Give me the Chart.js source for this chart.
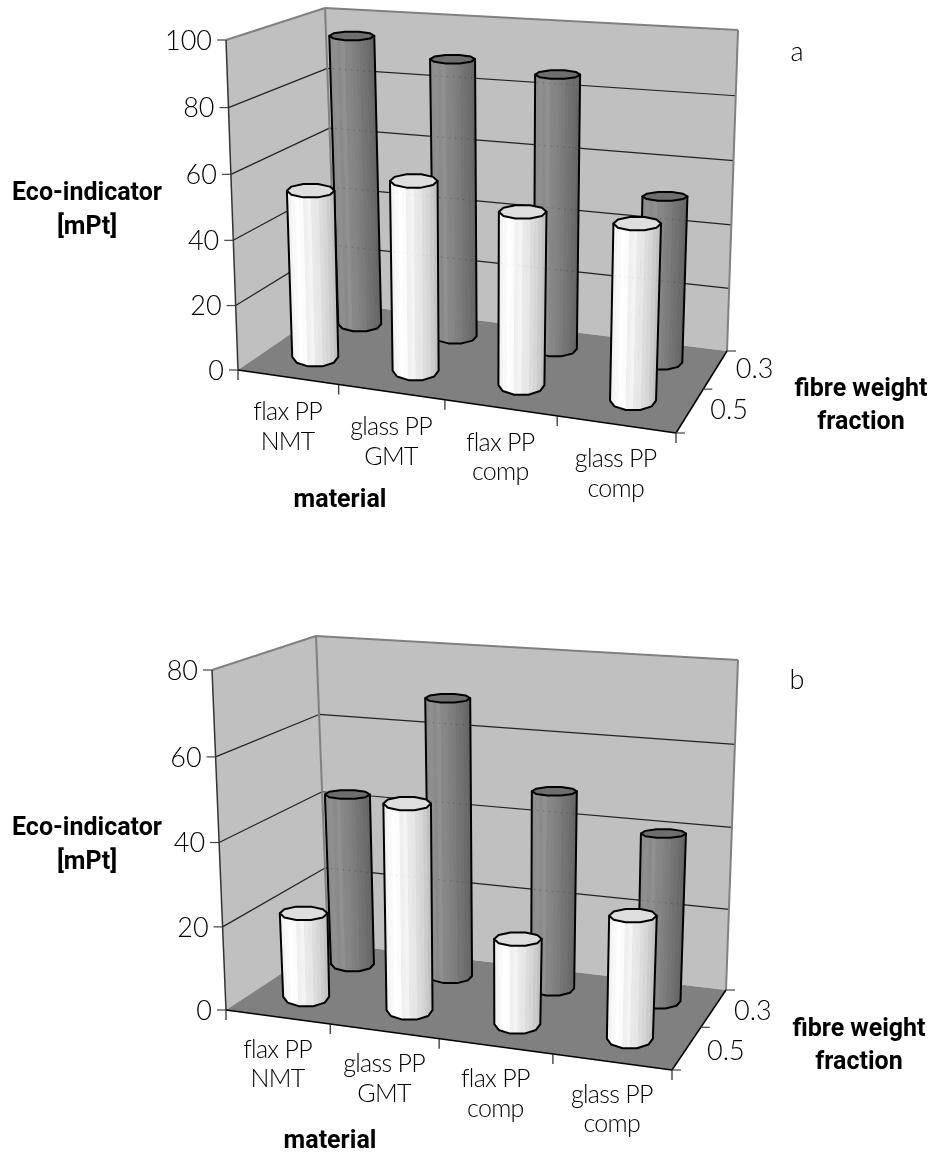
<!DOCTYPE html>
<html>
<head>
<meta charset="utf-8">
<script src="https://cdn.jsdelivr.net/npm/chart.js@4"></script>
<style>
  html, body { margin: 0; padding: 0; background: #fff; }
  canvas { position: absolute; left: 0; }
</style>
</head>
<body>
<canvas id="panelA" width="934" height="579" style="top:0"></canvas>
<canvas id="panelB" width="934" height="579" style="top:579px"></canvas>
<script>
// data
const materials = [['flax PP', 'NMT'], ['glass PP', 'GMT'], ['flax PP', 'comp'], ['glass PP', 'comp']];
const fractions = ['0.5', '0.3'];
const panelA_05 = [52, 58, 52, 52];
const panelA_03 = [94, 88.6, 86, 51.5];
const panelB_05 = [20.4, 49, 20, 28.3];
const panelB_03 = [43.2, 68.8, 48.3, 40.5];
const ticksA = [0, 20, 40, 60, 80, 100];
const ticksB = [0, 20, 40, 60, 80];

const NUM = '300 27px Lato, sans-serif';
const THIN = '300 25px Lato, sans-serif';
const BOLD = '700 25px Roboto, sans-serif';
const frontBands = ['#f3f3f3', '#f9f9f9', '#ffffff', '#fcfcfc', '#f0f0f0', '#f4f4f4', '#e9e9e9', '#e6e6e6', '#dcdcdc', '#d6d6d6', '#cccccc', '#c2c2c2'];
const backBands = ['#8c8c8c', '#8f8f8f', '#8a8a8a', '#909090', '#878787', '#858585', '#808080', '#7c7c7c', '#757575', '#717171', '#6b6b6b', '#666666'];
const rows = [
  { depth: 0.27, bands: frontBands, cap: '#dedede', rxTop: 23.8, rxBase: 23, ryTop: 7, ryBase: 10, dots: 'rgba(0,0,0,0.10)' },
  { depth: 0.75, bands: backBands, cap: '#6e6e6e', rxTop: 22.5, rxBase: 21.5, ryTop: 4.5, ryBase: 7.5, dots: 'rgba(0,0,0,0.30)' }
];

// maps the unit square onto a quad (perspective)
function quadMap(p0, p1, p2, p3) {
  const dx1 = p1[0] - p2[0], dx2 = p3[0] - p2[0], sx = p0[0] - p1[0] + p2[0] - p3[0];
  const dy1 = p1[1] - p2[1], dy2 = p3[1] - p2[1], sy = p0[1] - p1[1] + p2[1] - p3[1];
  const den = dx1 * dy2 - dx2 * dy1;
  const g = (sx * dy2 - dx2 * sy) / den, h = (dx1 * sy - sx * dy1) / den;
  const ax = p1[0] - p0[0] + g * p1[0], bx = p3[0] - p0[0] + h * p3[0];
  const ay = p1[1] - p0[1] + g * p1[1], by = p3[1] - p0[1] + h * p3[1];
  return (u, d) => {
    const w = g * u + h * d + 1;
    return [(ax * u + bx * d + p0[0]) / w, (ay * u + by * d + p0[1]) / w];
  };
}

function makeProjector(box) {
  const floor = quadMap(box.fl, box.fr, box.br, box.bl);
  const up = (top, bottom) => [top[0] - bottom[0], top[1] - bottom[1]];
  const uFL = up(box.flt, box.fl), uFR = up(box.frt, box.fr), uBR = up(box.brt, box.br), uBL = up(box.blt, box.bl);
  const mix = (a, b, t) => a + (b - a) * t;
  return (u, d, v) => {
    const a = floor(u, d);
    const t = v / (1 + 0.03 * (1 - v));
    const dx = mix(mix(uFL[0], uFR[0], u), mix(uBL[0], uBR[0], u), d);
    const dy = mix(mix(uFL[1], uFR[1], u), mix(uBL[1], uBR[1], u), d);
    return [a[0] + dx * t, a[1] + dy * t];
  };
}

function poly(ctx, pts) {
  ctx.beginPath();
  pts.forEach((p, i) => i ? ctx.lineTo(p[0], p[1]) : ctx.moveTo(p[0], p[1]));
  ctx.closePath();
}

function seg(ctx, a, b, color, width) {
  ctx.strokeStyle = color;
  ctx.lineWidth = width;
  ctx.beginPath();
  ctx.moveTo(a[0], a[1]);
  ctx.lineTo(b[0], b[1]);
  ctx.stroke();
}

function text(ctx, str, x, y, font, spacing) {
  ctx.font = font;
  ctx.letterSpacing = spacing || '0px';
  ctx.fillStyle = '#000';
  ctx.fillText(str, x, y);
  ctx.letterSpacing = '0px';
}

function drawRoom(chart, o) {
  const ctx = chart.ctx, P = o.project, box = o.box, ys = chart.scales.y;
  ctx.save();
  ctx.translate(0, -o.top);
  ctx.lineJoin = 'round';
  ctx.textBaseline = 'middle';

  poly(ctx, [box.fl, box.bl, box.blt, box.flt]);
  ctx.fillStyle = '#c0c0c0';
  ctx.fill();
  poly(ctx, [box.bl, box.br, box.brt, box.blt]);
  ctx.fill();
  poly(ctx, [box.fl, box.fr, box.br, box.bl]);
  ctx.fillStyle = '#808080';
  ctx.fill();

  o.ticks.forEach(t => {
    const v = t / ys.max;
    const front = P(0, 0, v), back = P(0, 1, v), right = P(1, 1, v);
    if (t > 0 && t < ys.max) {
      seg(ctx, front, back, '#222', 1.2);
      seg(ctx, back, right, '#222', 1.2);
    }
    seg(ctx, [front[0] - 9, front[1]], front, '#444', 1.2);
    ctx.textAlign = 'right';
    text(ctx, String(t), front[0] - 14, front[1] + 1, NUM);
  });

  seg(ctx, box.flt, box.blt, '#808080', 2);
  seg(ctx, box.blt, box.brt, '#808080', 2);
  seg(ctx, box.blt, box.bl, '#808080', 2);
  seg(ctx, box.brt, box.br, '#808080', 2);
  seg(ctx, box.flt, box.fl, '#333', 1.5);
  seg(ctx, box.fl, box.fr, '#000', 1.5);
  seg(ctx, box.fr, box.br, '#000', 1.5);

  // category ticks and labels along the front edge
  ctx.textAlign = 'center';
  materials.forEach((lines, i) => {
    const mid = P((i + 0.5) / materials.length, 0, 0);
    lines.forEach((line, k) => text(ctx, line, mid[0], mid[1] + o.labelDrop + k * 29.5, THIN, '-0.7px'));
  });
  for (let i = 0; i <= materials.length; i++) {
    const p = P(i / materials.length, 0, 0);
    seg(ctx, p, [p[0], p[1] + 10], '#222', 1.2);
  }

  // depth axis
  [0, 0.5, 1].forEach(d => {
    const p = P(1, d, 0);
    seg(ctx, p, [p[0] + 9, p[1]], '#444', 1.2);
  });
  fractions.forEach((f, i) => {
    const p = P(1, (i + 0.5) / fractions.length, 0);
    text(ctx, f, p[0] + 39, p[1] + o.depthDrop, NUM);
  });

  o.titles.forEach(t => text(ctx, t[0], t[1], t[2], BOLD));
  text(ctx, o.letter[0], o.letter[1], o.letter[2], NUM);
  ctx.restore();
}

function drawCylinder(ctx, P, u, row, v, ticks, max) {
  const c1 = P(u, row.depth, v), c0 = P(u, row.depth, 0);
  const rx1 = row.rxTop, rx0 = row.rxBase;
  const n = 10;
  const ring = (c, rx, ry, from, to) => {
    const pts = [];
    for (let i = from; i <= to; i++) {
      const a = i * 2 * Math.PI / n;
      pts.push([c[0] + rx * Math.cos(a), c[1] + ry * Math.sin(a)]);
    }
    return pts;
  };
  const body = [[c1[0] + rx1, c1[1]], ...ring(c0, rx0, row.ryBase, 0, n / 2), [c1[0] - rx1, c1[1]]];

  ctx.save();
  poly(ctx, body);
  ctx.clip();
  const top0 = c1[0] - rx1, base0 = c0[0] - rx0;
  row.bands.forEach((color, i) => {
    const f0 = i / row.bands.length, f1 = (i + 1) / row.bands.length;
    const y0 = c1[1] - 2, y1 = c0[1] + row.ryBase + 3;
    poly(ctx, [
      [top0 + 2 * rx1 * f0, y0], [top0 + 2 * rx1 * f1 + 0.6, y0],
      [base0 + 2 * rx0 * f1 + 0.6, y1], [base0 + 2 * rx0 * f0, y1]
    ]);
    ctx.fillStyle = color;
    ctx.fill();
  });
  // faint dotted traces of the wall gridlines show through the bars
  ctx.setLineDash([1, 5]);
  ticks.slice(1, -1).forEach(t => seg(ctx, P(0, 1, t / max), P(1, 1, t / max), row.dots, 1));
  ctx.setLineDash([]);
  ctx.restore();

  ctx.strokeStyle = '#000';
  ctx.lineWidth = 2;
  ctx.lineJoin = 'round';
  poly(ctx, body);
  ctx.stroke();
  poly(ctx, ring(c1, rx1, row.ryTop, 0, n - 1));
  ctx.fillStyle = row.cap;
  ctx.fill();
  ctx.stroke();
}

const roomPlugin = {
  id: 'room',
  beforeDatasetsDraw(chart, args, o) {
    drawRoom(chart, o);
  },
  afterDatasetsDraw(chart, args, o) {
    // cylinders follow the bar elements laid out by the scales, back row first
    const area = chart.chartArea, ctx = chart.ctx;
    ctx.save();
    ctx.translate(0, -o.top);
    [1, 0].forEach(ds => {
      chart.getDatasetMeta(ds).data.forEach(bar => {
        const u = (bar.x - area.left) / (area.right - area.left);
        const v = (area.bottom - bar.y) / (area.bottom - area.top);
        drawCylinder(ctx, o.project, u, rows[ds], v, o.ticks, chart.scales.y.max);
      });
    });
    ctx.restore();
  }
};

function panel(id, front, back, ticks, top, box, labelDrop, depthDrop, titles, letter) {
  new Chart(document.getElementById(id), {
    type: 'bar',
    plugins: [roomPlugin],
    data: {
      labels: materials.map(m => m.join(' ')),
      datasets: [
        { label: fractions[0], data: front, backgroundColor: 'rgba(0,0,0,0)', grouped: false },
        { label: fractions[1], data: back, backgroundColor: 'rgba(0,0,0,0)', grouped: false }
      ]
    },
    options: {
      responsive: false,
      animation: false,
      devicePixelRatio: 1,
      layout: { padding: 0 },
      scales: {
        x: { display: false },
        y: { display: false, min: 0, max: ticks[ticks.length - 1] }
      },
      plugins: {
        legend: { display: false },
        tooltip: { enabled: false },
        room: { project: makeProjector(box), box, ticks, top, labelDrop, depthDrop, titles, letter }
      }
    }
  });
}

panel('panelA', panelA_05, panelA_03, ticksA, 0, {
  fl: [238, 370], fr: [676, 433], br: [727, 351], bl: [336, 303],
  flt: [226, 40], frt: [687, 74], brt: [738, 30], blt: [325, 8]
}, 35, 0, [
  ['Eco-indicator', 87, 194], ['[mPt]', 87, 228], ['material', 340, 501],
  ['fibre weight', 861, 390], ['fraction', 861, 423]
], ['a', 797, 52]);

panel('panelB', panelB_05, panelB_03, ticksB, 579, {
  fl: [226, 1010], fr: [672, 1070], br: [726, 990], bl: [328, 943],
  flt: [212, 670], frt: [684, 702], brt: [738, 660], blt: [316, 636]
}, 33, 3, [
  ['Eco-indicator', 87, 829], ['[mPt]', 87, 863], ['material', 330, 1142],
  ['fibre weight', 859, 1030], ['fraction', 859, 1063]
], ['b', 797, 680]);
</script>
</body>
</html>
